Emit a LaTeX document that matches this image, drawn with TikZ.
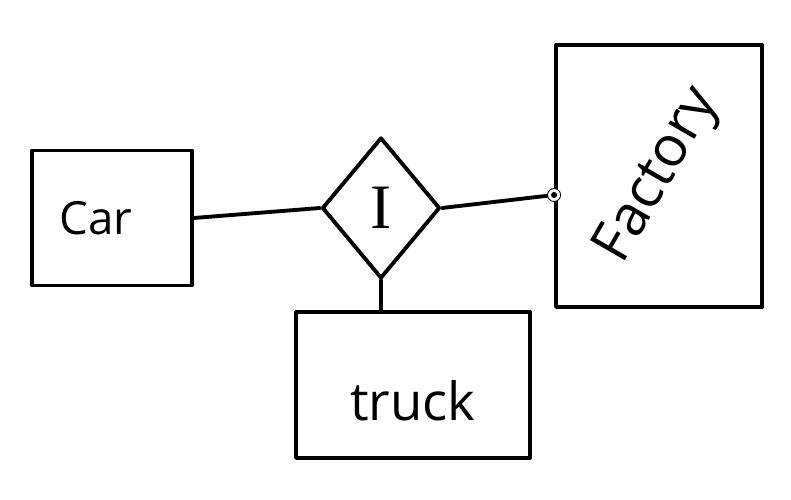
\documentclass[tikz,border=0pt]{standalone}
\usepackage{fontspec}
\setmainfont{Open Sans}
\newfontfamily\serifI{Liberation Serif}
\usetikzlibrary{positioning,shapes.geometric}
\tikzstyle{entity}=[draw, line width=2.2pt, minimum width=3.2cm, minimum height=2.7cm, inner sep=0pt]
\tikzstyle{relation}=[draw, diamond, line width=2.2pt, minimum width=2.36cm, minimum height=2.82cm, inner sep=0pt]
\tikzstyle{link}=[line width=2.2pt, line cap=round]

\begin{document}
\begin{tikzpicture}[line join=round]
	\useasboundingbox (0,0) rectangle (15.82,10);
	\node[entity, font=\fontsize{26}{30}\selectfont] (car) at (2.24,5.64) {Car\kern0.64cm\null};
	\node[relation, font=\serifI\fontsize{36}{40}\selectfont] (rel) at (7.62,5.84) {I};
	\node[entity, minimum width=4.68cm, minimum height=2.92cm, text height=1.45cm, font=\fontsize{30}{34}\selectfont] (truck) at (8.26,2.3) {truck};
	\node[entity, minimum width=4.12cm, minimum height=5.24cm, font=\fontsize{32}{36}\selectfont] (factory) at (13.18,6.48) {\rotatebox{60}{Factory}};
	\coordinate (join) at ([yshift=-0.38cm]factory.west);
	\path[link] (car.east) edge (rel.west);
	\path[link] (rel.east) edge (join);
	\path[link] (rel.south) edge (rel.south |- truck.north);
	\draw[fill=white, line width=0.5pt] (join) circle (0.13);
	\fill (join) circle (0.06);
\end{tikzpicture}
\end{document}
